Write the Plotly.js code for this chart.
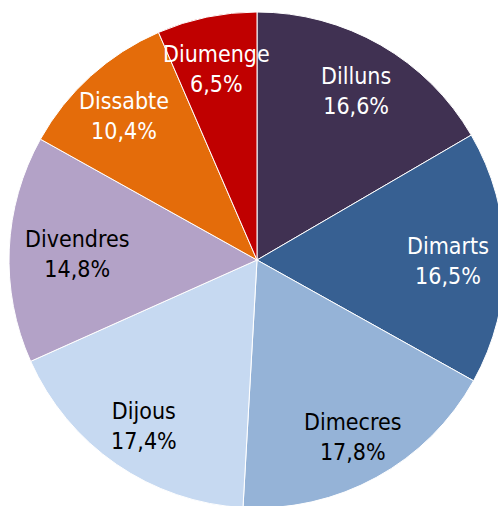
<!DOCTYPE html>
<html><head><meta charset="utf-8">
<script src="https://cdn.plot.ly/plotly-3.0.1.min.js"></script>
<style>html,body{margin:0;padding:0;overflow:hidden;background:#fff;}</style>
</head><body><div id="chart"></div>
<script>
const days = ["Dilluns","Dimarts","Dimecres","Dijous","Divendres","Dissabte","Diumenge"];
const shares = [16.6, 16.5, 17.8, 17.4, 14.8, 10.4, 6.5];
const sliceColors = ["#403152","#376092","#95B3D7","#C6D9F1","#B3A2C7","#E46C0A","#C00000"];
const textColors = ["#FFFFFF","#FFFFFF","#000000","#000000","#000000","#FFFFFF","#FFFFFF"];

const W = 506, H = 512;
const dom = {x: [9/W, 505/W], y: [(H-508)/H, (H-12)/H]};
const labelFont = "DejaVu Sans Condensed, Liberation Sans, sans-serif";
const labelSize = 23;

// label placement derived from the data (mid-angle of each slice)
const total = shares.reduce((a, b) => a + b, 0);
const cxPx = (dom.x[0] + dom.x[1]) / 2 * W;
const cyPx = (dom.y[0] + dom.y[1]) / 2 * H;
const Rpx = Math.min((dom.x[1]-dom.x[0]) * W, (dom.y[1]-dom.y[0]) * H) / 2;
const labelRadius = 0.80;
const edgeLimit = 0.935;
const ctx = document.createElement("canvas").getContext("2d");
ctx.font = labelSize + "px 'DejaVu Sans Condensed', 'Liberation Sans', sans-serif";
let cum = 0;
const annotations = days.map((d, i) => {
  const mid = (cum + shares[i] / 2) / total;
  cum += shares[i];
  const th = mid * 2 * Math.PI;
  let dx = labelRadius * Rpx * Math.sin(th);
  const dy = labelRadius * Rpx * Math.cos(th);
  const halfW = ctx.measureText(d).width / 2;
  const maxDx = edgeLimit * Rpx - halfW;
  if (Math.abs(dx) > maxDx) dx = Math.sign(dx) * maxDx;
  const pct = (shares[i] / total * 100).toFixed(1).replace(".", ",") + "%";
  return {
    xref: "paper", yref: "paper", x: (cxPx + dx) / W, y: (cyPx + dy) / H,
    xanchor: "center", yanchor: "middle", showarrow: false, yshift: -3,
    text: d + "<br>" + pct, align: "center",
    font: {family: labelFont, size: labelSize, color: textColors[i]}
  };
});

Plotly.newPlot("chart", [{
  type: "pie",
  labels: days,
  values: shares,
  sort: false,
  direction: "clockwise",
  rotation: 0,
  marker: {colors: sliceColors, line: {color: "#FFFFFF", width: 1}},
  textinfo: "none",
  hoverinfo: "none",
  domain: dom
}], {
  width: W, height: H,
  margin: {l: 0, r: 0, t: 0, b: 0},
  showlegend: false,
  paper_bgcolor: "#FFFFFF",
  annotations: annotations,
  font: {family: labelFont}
}, {staticPlot: true});
</script></body></html>
